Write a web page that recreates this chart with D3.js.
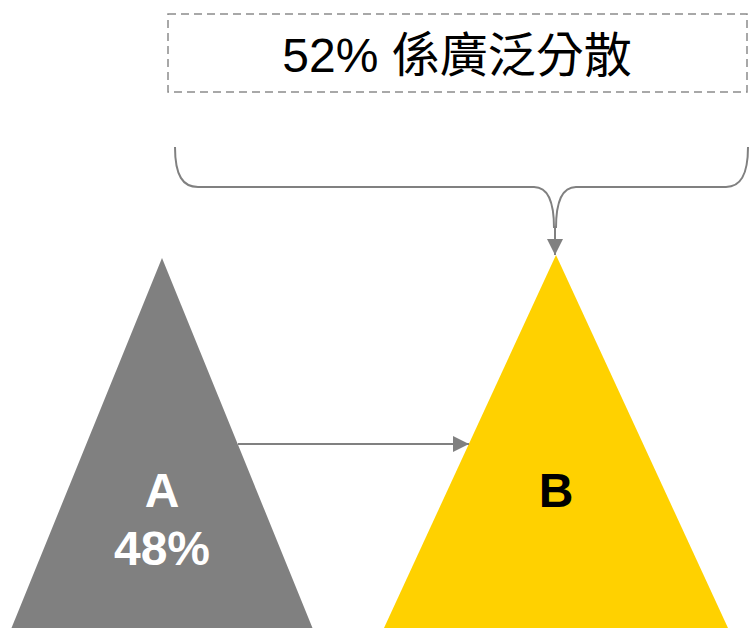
<!DOCTYPE html>
<html>
<head>
<meta charset="utf-8">
<script src="https://cdn.jsdelivr.net/npm/d3@7"></script>
<style>
  html, body { margin: 0; padding: 0; background: #fff; }
  svg { display: block; }
</style>
</head>
<body>
<script>
// Groups, their shares and fill colours
const categories = ["A", "B"];
const shares = [48, 52];
const fills = ["#808080", "#FFD100"];
const labelColors = ["#ffffff", "#000000"];
const showShare = [true, false];
const calloutText = "52% 係廣泛分散";

const W = 749, H = 628;
const svg = d3.select("body").append("svg")
  .attr("width", W).attr("height", H);

// Placement of the two triangles (centre, half-width of base, apex height)
const centers = { A: 162, B: 556 };
const halfBase = { A: 150.5, B: 172 };
const apexY = { A: 258, B: 255 };
const baseY = 628;

const defs = svg.append("defs");
defs.append("marker")
  .attr("id", "arrow")
  .attr("viewBox", "0 0 10 10")
  .attr("refX", 10).attr("refY", 5)
  .attr("markerWidth", 8).attr("markerHeight", 8)
  .attr("markerUnits", "strokeWidth")
  .attr("orient", "auto")
  .append("path")
  .attr("d", "M0,0 L10,5 L0,10 Z")
  .attr("fill", "#808080");

const tri = d3.line();

categories.forEach((c, i) => {
  const cx = centers[c];
  svg.append("path")
    .attr("d", tri([[cx, apexY[c]], [cx + halfBase[c], baseY], [cx - halfBase[c], baseY]]) + "Z")
    .attr("fill", fills[i]);

  const t = svg.append("text")
    .attr("text-anchor", "middle")
    .attr("fill", labelColors[i])
    .style("font-family", "'Liberation Sans', Arial, sans-serif")
    .style("font-weight", "bold")
    .style("font-size", "48px");
  t.append("tspan").attr("x", cx).attr("y", 507).text(c);
  if (showShare[i]) {
    t.append("tspan").attr("x", cx).attr("y", 565).text(shares[i] + "%");
  }
});

// Flow from A into B
const grey = "#808080";
svg.append("line")
  .attr("x1", 238).attr("y1", 444)
  .attr("x2", 469).attr("y2", 444)
  .attr("stroke", grey).attr("stroke-width", 2)
  .attr("marker-end", "url(#arrow)");

// Dashed callout box
svg.append("rect")
  .attr("x", 168).attr("y", 14)
  .attr("width", 579).attr("height", 78)
  .attr("fill", "none")
  .attr("stroke", "#8c8c8c")
  .attr("stroke-width", 1.5)
  .attr("stroke-dasharray", "8,5");

svg.append("text")
  .attr("x", 457).attr("y", 72)
  .attr("text-anchor", "middle")
  .attr("fill", "#000")
  .style("font-family", "'Liberation Sans', Arial, 'Noto Sans CJK TC', sans-serif")
  .style("font-size", "48px")
  .text(calloutText);

// Curly brace gathering into B
const brace = d3.path();
brace.moveTo(175, 147);
brace.bezierCurveTo(175, 176, 183, 187, 198, 187);
brace.lineTo(534, 187);
brace.bezierCurveTo(548, 187, 554, 203, 554, 228);
brace.moveTo(748, 147);
brace.bezierCurveTo(748, 176, 740, 187, 726, 187);
brace.lineTo(576, 187);
brace.bezierCurveTo(562, 187, 556, 203, 556, 228);
svg.append("path")
  .attr("d", brace.toString())
  .attr("fill", "none")
  .attr("stroke", grey)
  .attr("stroke-width", 2);

svg.append("line")
  .attr("x1", 555).attr("y1", 226)
  .attr("x2", 555).attr("y2", 255)
  .attr("stroke", grey).attr("stroke-width", 2)
  .attr("marker-end", "url(#arrow)");
</script>
</body>
</html>
